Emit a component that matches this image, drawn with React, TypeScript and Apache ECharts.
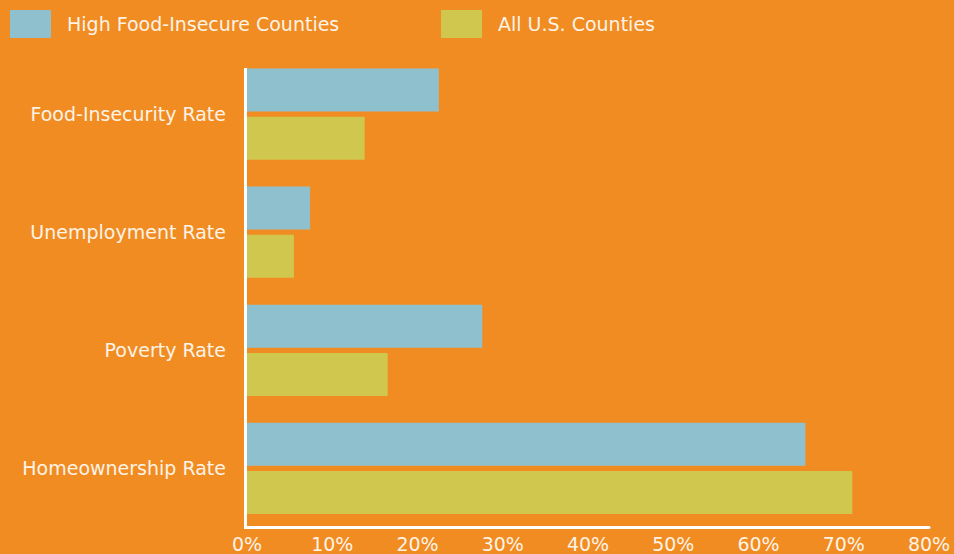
import React, { useEffect, useRef } from "react";
import * as echarts from "echarts";

const categories = ["Food-Insecurity Rate", "Unemployment Rate", "Poverty Rate", "Homeownership Rate"];
const highFoodInsecure = [22.5, 7.4, 27.6, 65.5];
const allCounties = [13.8, 5.5, 16.5, 71.0];
const seriesNames = ["High Food-Insecure Counties", "All U.S. Counties"];

const BG = "#F18C22";
const BLUE = "#8FC0CD";
const GREEN = "#D0C74E";
const TEXT = "#FDF3E6";
const FONT = "DejaVu Sans";

export default function App() {
  const ref = useRef<HTMLDivElement>(null);
  useEffect(() => {
    if (!ref.current) return;
    const chart = echarts.init(ref.current, undefined, { renderer: "svg" });
    const legendText = { color: TEXT, fontSize: 19, fontFamily: FONT, padding: [0, 0, 0, 11] };
    chart.setOption({
      animation: false,
      backgroundColor: BG,
      legend: [
        {
          left: 10,
          top: 10,
          padding: 0,
          data: [seriesNames[0]],
          itemWidth: 41,
          itemHeight: 28,
          icon: "rect",
          textStyle: legendText,
        },
        {
          left: 441,
          top: 10,
          padding: 0,
          data: [seriesNames[1]],
          itemWidth: 41,
          itemHeight: 28,
          icon: "rect",
          textStyle: legendText,
        },
      ],
      grid: { left: 247, right: 25, top: 55, bottom: 26.5, containLabel: false },
      xAxis: {
        type: "value",
        min: 0,
        max: 80,
        interval: 10,
        axisLine: { show: true, lineStyle: { color: "#FFFFFF", width: 3 } },
        axisTick: { show: false },
        splitLine: { show: false },
        axisLabel: {
          formatter: "{value}%",
          color: TEXT,
          fontSize: 19,
          fontFamily: FONT,
          margin: 7,
        },
      },
      yAxis: {
        type: "category",
        data: categories,
        inverse: true,
        axisLine: { show: false },
        axisTick: { show: false },
        axisLabel: { color: TEXT, fontSize: 19, fontFamily: FONT, margin: 21 },
      },
      graphic: [
        {
          type: "line",
          shape: { x1: 245.5, y1: 68, x2: 245.5, y2: 529 },
          style: { stroke: "#FFFFFF", lineWidth: 3 },
          z: 10,
        },
      ],
      series: [
        {
          name: seriesNames[0],
          type: "bar",
          data: highFoodInsecure,
          barWidth: 43,
          barGap: "12%",
          itemStyle: { color: BLUE },
        },
        {
          name: seriesNames[1],
          type: "bar",
          data: allCounties,
          barWidth: 43,
          barGap: "12%",
          itemStyle: { color: GREEN },
        },
      ],
    });
    return () => chart.dispose();
  }, []);
  return (
    <div
      ref={ref}
      style={{ position: "absolute", left: 0, top: 0, width: 954, height: 554 }}
    />
  );
}
